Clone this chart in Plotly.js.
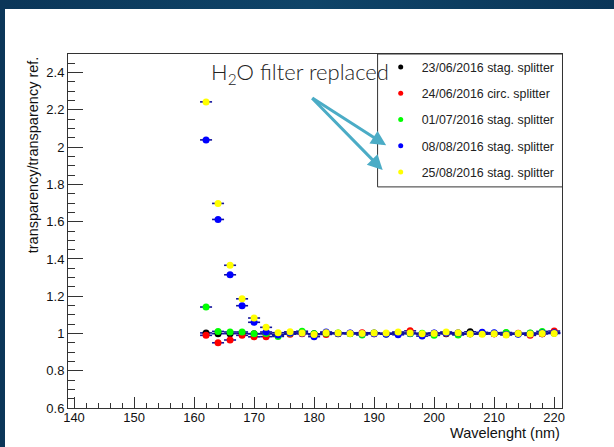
<!DOCTYPE html>
<html>
<head>
<meta charset="utf-8">
<script src="https://cdn.plot.ly/plotly-3.0.1.min.js"></script>
<style>
  html, body { margin: 0; padding: 0; width: 614px; height: 447px; overflow: hidden;
    background: linear-gradient(90deg, #0b3658 0%, #0f4468 50%, #0b3658 100%); }
  #plot { position: absolute; left: 5px; top: 9px; width: 609px; height: 438px; background: #fff; }
</style>
</head>
<body>
<div id="plot"></div>
<script>
// Wavelength (nm)
const wavelength = [162,164,166,168,170,172,174,176,178,180,182,184,186,188,190,
                    192,194,196,198,200,202,204,206,208,210,212,214,216,218,220];
const xErr = 1; // nm half width

const seriesNames = ["23/06/2016 stag. splitter", "24/06/2016 circ. splitter",
                     "01/07/2016 stag. splitter", "08/08/2016 stag. splitter",
                     "25/08/2016 stag. splitter"];
const seriesColors = ["#000000", "#ff0000", "#00ff00", "#0000ff", "#ffff00"];

const s230616 = [1.003,0.999,0.999,1.000,0.998,0.998,0.995,1.000,1.001,0.998,
                 1.002,0.999,1.001,1.000,1.003,0.998,1.002,1.000,0.999,1.001,
                 0.998,1.002,1.009,1.000,0.999,1.003,0.998,1.001,0.999,1.002];
const s240616 = [0.990,0.950,0.965,0.990,0.982,0.983,0.992,0.996,0.998,0.994,
                 0.995,1.001,1.000,1.004,0.999,0.998,1.001,1.014,0.997,0.999,
                 1.001,0.996,0.999,1.002,0.998,0.996,1.001,0.990,0.999,1.013];
const s010716 = [1.142,1.011,1.008,1.008,0.999,1.000,0.984,1.001,1.012,0.998,
                 1.001,1.003,0.998,0.992,1.001,0.997,1.002,0.999,1.001,0.990,
                 1.004,0.992,0.998,1.000,1.001,1.005,0.999,1.002,1.011,1.003];
const s080816 = [2.039,1.612,1.315,1.149,1.060,1.008,0.992,1.002,1.001,0.983,
                 1.008,1.000,1.002,0.998,0.999,0.996,0.993,1.001,0.986,1.002,
                 1.003,1.002,0.998,1.006,1.004,0.995,0.996,0.997,1.002,1.004];
const s250816 = [2.243,1.698,1.366,1.186,1.083,1.033,1.004,1.009,1.002,0.995,
                 1.004,1.002,1.000,1.000,1.003,1.002,1.008,1.002,0.999,1.000,
                 1.008,1.004,0.997,0.996,0.999,0.992,1.000,0.997,1.000,1.000];
const allSeries = [s230616, s240616, s010716, s080816, s250816];

const xTickVals = [140,150,160,170,180,190,200,210,220];
const yTickVals = [0.6,0.8,1,1.2,1.4,1.6,1.8,2,2.2,2.4];

const dataTraces = allSeries.map((vals, i) => ({
  type: 'scatter', mode: 'markers',
  x: wavelength, y: vals, name: seriesNames[i], showlegend: false,
  marker: { color: seriesColors[i], size: 7, line: { width: 0 } },
  error_x: { type: 'constant', value: xErr, color: '#12129c', thickness: 1.6, width: 0 }
}));
// legend entries (small markers as in the original legend)
const legendTraces = seriesNames.map((nm, i) => ({
  type: 'scatter', mode: 'markers', x: [null], y: [null], name: nm,
  marker: { color: seriesColors[i], size: 5, line: { width: 0 } },
  legendgroup: 'g' + i, showlegend: true
}));

const tickFont = { family: 'Liberation Sans, Arial, sans-serif', size: 13, color: '#111' };
const titleFont = { family: 'Liberation Sans, Arial, sans-serif', size: 14.5, color: '#111' };

const layout = {
  width: 609, height: 438,
  margin: { l: 62.7, r: 52.3, t: 44.7, b: 39, pad: 0 },
  paper_bgcolor: '#ffffff', plot_bgcolor: '#ffffff',
  showlegend: true,
  legend: {
    x: 0.631, y: 1.0042, xanchor: 'left', yanchor: 'top',
    bgcolor: 'rgba(0,0,0,0)', borderwidth: 0, itemwidth: 32,
    font: { family: 'Liberation Sans, Arial, sans-serif', size: 12.4, color: '#222' },
    tracegroupgap: 7.1
  },
  xaxis: {
    range: [139, 221.3], tickmode: 'array', tickvals: xTickVals,
    ticks: 'inside', ticklen: 10.6, tickcolor: '#333', tickwidth: 1,
    minor: { dtick: 2, tick0: 140, ticks: 'inside', ticklen: 5.3, tickcolor: '#333' },
    showline: true, mirror: true, linecolor: '#333', linewidth: 1,
    showgrid: false, zeroline: false, tickfont: tickFont, ticklabelstandoff: -3
  },
  yaxis: {
    range: [0.6, 2.5], tickmode: 'array', tickvals: yTickVals,
    ticks: 'inside', ticklen: 14.8, tickcolor: '#333', tickwidth: 1,
    minor: { dtick: 0.05, tick0: 0.6, ticks: 'inside', ticklen: 7.4, tickcolor: '#333' },
    showline: true, mirror: true, linecolor: '#333', linewidth: 1,
    showgrid: false, zeroline: false, tickfont: tickFont
  },
  shapes: [
    { type: 'rect', xref: 'paper', yref: 'paper', x0: 0.6267, x1: 1.001, y0: 0.6246, y1: 1.0,
      line: { color: '#333', width: 1 }, fillcolor: 'rgba(255,255,255,0)', layer: 'above' }
  ],
  annotations: [
    { xref: 'paper', yref: 'paper', x: 1, y: -0.0706, xanchor: 'right', yanchor: 'middle',
      text: 'Wavelenght (nm)', showarrow: false, font: titleFont },
    { xref: 'paper', yref: 'paper', x: -0.0713, y: 1.0, xanchor: 'center', yanchor: 'top',
      text: 'transparency/transparency ref.', textangle: -90, showarrow: false,
      font: titleFont },
    { xref: 'paper', yref: 'paper', x: 0.2845, y: 0.9455, xanchor: 'left', yanchor: 'middle',
      text: 'H<sub>2</sub>O filter replaced', showarrow: false,
      font: { family: 'Lato, Open Sans, sans-serif', size: 22, weight: 300, color: '#222' } },
    { xref: 'paper', yref: 'paper', x: 0.644, y: 0.742, ax: -75.3, ay: -48.3,
      text: '', showarrow: true, arrowhead: 2, arrowsize: 1, arrowwidth: 3,
      arrowcolor: '#4bacc6', standoff: 0 },
    { xref: 'paper', yref: 'paper', x: 0.637, y: 0.672, ax: -72, ay: -73.3,
      text: '', showarrow: true, arrowhead: 2, arrowsize: 1, arrowwidth: 3,
      arrowcolor: '#4bacc6', standoff: 0 }
  ]
};

Plotly.newPlot('plot', dataTraces.concat(legendTraces), layout, { displayModeBar: false, staticPlot: true });
</script>
</body>
</html>
